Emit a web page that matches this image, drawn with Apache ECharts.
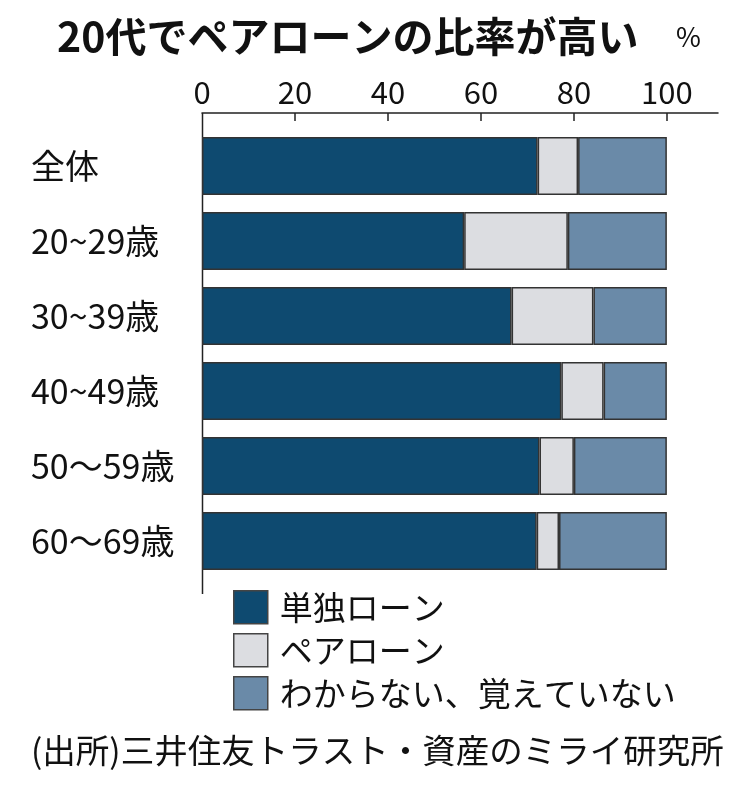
<!DOCTYPE html>
<html>
<head>
<meta charset="utf-8">
<script src="https://cdn.jsdelivr.net/npm/echarts@6/dist/echarts.min.js"></script>
<style>
html,body{margin:0;padding:0;background:#fff;}
#main{width:736px;height:787px;}
</style>
</head>
<body>
<div id="main"></div>
<script>
var categories = ['全体', '20~29歳', '30~39歳', '40~49歳', '50〜59歳', '60〜69歳'];
var seriesNames = ['単独ローン', 'ペアローン', 'わからない、覚えていない'];
var singleLoan = [72.2, 56.4, 66.6, 77.3, 72.6, 72.0];
var pairLoan = [8.7, 22.3, 17.6, 9.1, 7.4, 4.8];
var unknown = [19.1, 21.3, 15.8, 13.6, 20.0, 23.2];
var tickValues = [0, 20, 40, 60, 80, 100];

var colors = ['#0e4a70', '#dcdde1', '#6a8aa8'];
var cjk = "'Noto Sans CJK JP', 'Noto Sans', sans-serif";

var chart = echarts.init(document.getElementById('main'), null, {renderer: 'canvas'});

function mk(name, data, color) {
  return {
    name: name,
    type: 'bar',
    stack: 'total',
    data: data,
    barWidth: 58,
    itemStyle: {color: color, borderColor: '#333', borderWidth: 1.5},
    emphasis: {disabled: true},
    animation: false
  };
}

chart.setOption({
  animation: false,
  backgroundColor: '#fff',
  title: [
    {text: '20代でペアローンの比率が高い', left: 57, top: 14, padding: 0,
     textStyle: {fontFamily: cjk, fontSize: 41, fontWeight: 'bold', color: '#111', lineHeight: 44}},
    {text: '%', left: 676, top: 22, padding: 0,
     textStyle: {fontFamily: cjk, fontSize: 27, fontWeight: 'normal', color: '#111', lineHeight: 30}},
    {text: '(出所)三井住友トラスト・資産のミライ研究所', left: 31, top: 732, padding: 0,
     textStyle: {fontFamily: cjk, fontSize: 33.5, fontWeight: 'normal', color: '#111', lineHeight: 36}}
  ],
  legend: {
    orient: 'vertical',
    left: 233, top: 590,
    padding: 0,
    itemWidth: 34, itemHeight: 33, itemGap: 8.5,
    icon: 'rect',
    data: seriesNames,
    selectedMode: false,
    itemStyle: {borderColor: '#444', borderWidth: 1.5},
    textStyle: {fontFamily: cjk, fontSize: 33, color: '#111', lineHeight: 33, padding: [0, 0, 0, 7]}
  },
  grid: {left: 202, right: 18, top: 128.5, bottom: 208.5, containLabel: false},
  xAxis: {
    type: 'value',
    position: 'top',
    offset: 15.5,
    min: 0, max: 111, interval: 20,
    axisLine: {show: true, lineStyle: {color: '#222', width: 1.5}},
    axisTick: {show: true, inside: true, length: 8, customValues: [20, 40, 60, 80, 100], lineStyle: {color: '#222', width: 1.5}},
    axisLabel: {customValues: tickValues, margin: 5, fontFamily: cjk, fontSize: 31, color: '#111'},
    splitLine: {show: false}
  },
  yAxis: {
    type: 'category',
    inverse: true,
    data: categories,
    axisLine: {show: false},
    axisTick: {show: false},
    axisLabel: {align: 'left', margin: 171, fontFamily: cjk, fontSize: 34, color: '#111'}
  },
  graphic: [
    {type: 'line', shape: {x1: 202.5, y1: 113, x2: 202.5, y2: 594}, style: {stroke: '#222', lineWidth: 1.5}, silent: true}
  ],
  series: [
    mk(seriesNames[0], singleLoan, colors[0]),
    mk(seriesNames[1], pairLoan, colors[1]),
    mk(seriesNames[2], unknown, colors[2])
  ]
});
</script>
</body>
</html>
